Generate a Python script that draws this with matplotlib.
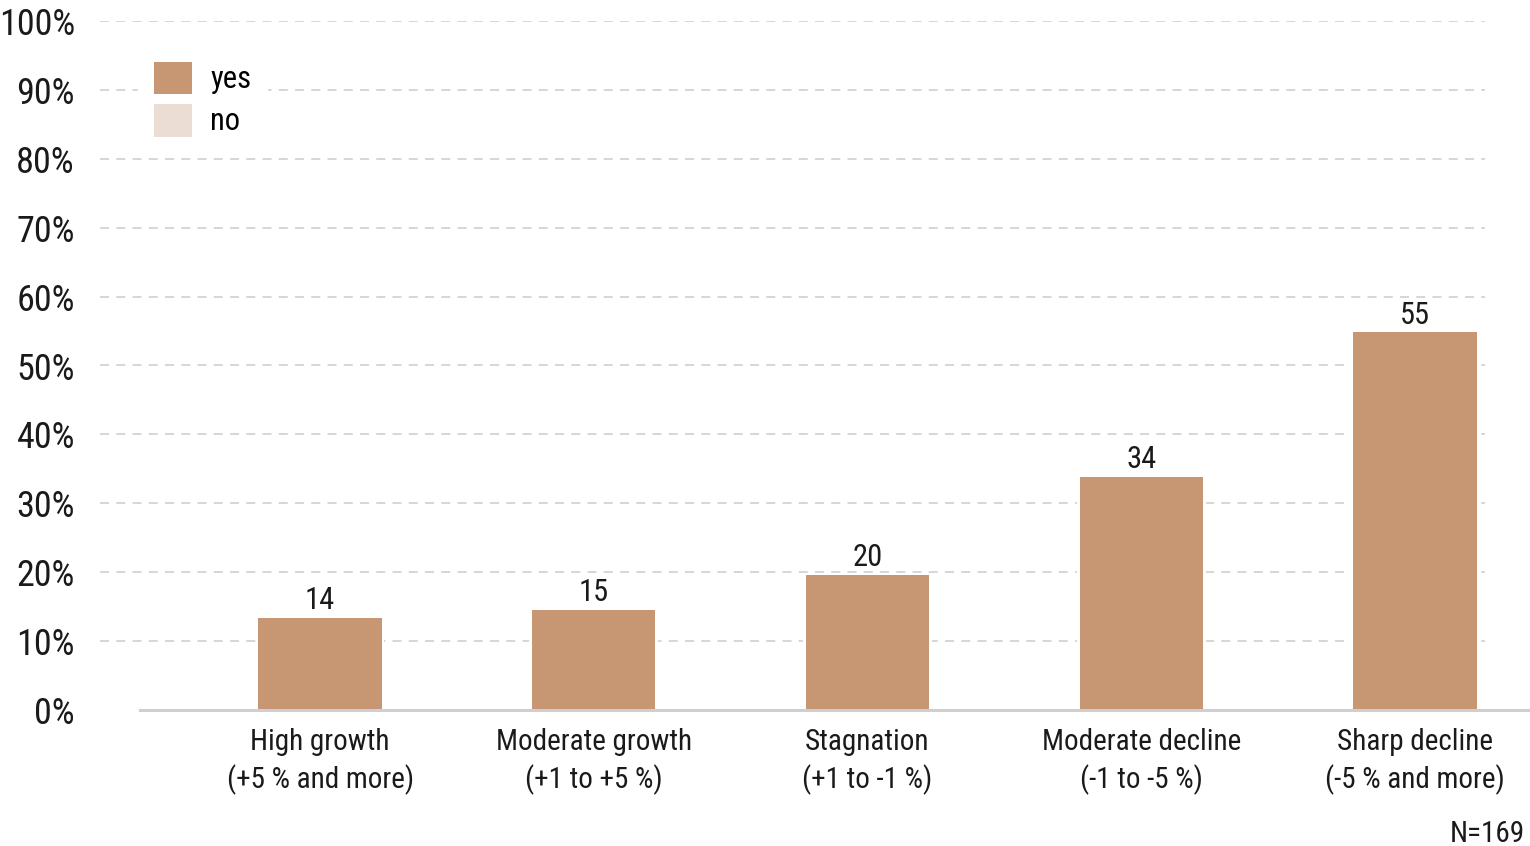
import matplotlib
matplotlib.use("Agg")
import matplotlib.pyplot as plt
from matplotlib.patches import Patch
from matplotlib import font_manager as fm

categories = ["High growth\n(+5 % and more)", "Moderate growth\n(+1 to +5 %)",
              "Stagnation\n(+1 to -1 %)", "Moderate decline\n(-1 to -5 %)",
              "Sharp decline\n(-5 % and more)"]
yes_values = [13.4, 14.5, 19.6, 33.8, 54.8]
value_labels = ["14", "15", "20", "34", "55"]
y_ticks = [0, 10, 20, 30, 40, 50, 60, 70, 80, 90, 100]
y_tick_labels = [f"{t}%" for t in y_ticks]
legend_labels = ["yes", "no"]
note = "N=169"

names = {f.name for f in fm.fontManager.ttflist}
fam = "Liberation Sans"
for cand in ["Arial Narrow", "Liberation Sans Narrow", "Roboto Condensed"]:
    if cand in names:
        fam = cand
        break
narrow = fam != "Liberation Sans"
k = 1.0 if narrow else 0.88
plt.rcParams["font.family"] = [fam, "DejaVu Sans"]

YES = "#C79673"
NO = "#EBDDD3"
GRID = "#D3D3D3"
TXT = "#1a1a1a"

W, H = 1530, 846
fig = plt.figure(figsize=(W / 100, H / 100), dpi=100)
ax = fig.add_axes([100 / W, (H - 710) / H, 1385 / W, (710 - 21) / H])

x = list(range(len(categories)))
ax.bar(x, yes_values, width=0.47, color="white", zorder=2)
ax.bar(x, yes_values, width=0.45, color=YES, zorder=3)
for xi, v, lab in zip(x, yes_values, value_labels):
    ax.annotate(lab, (xi, v), xytext=(0, 2), textcoords="offset points",
                ha="center", va="bottom", fontsize=22 * k, color=TXT)

ax.set_xlim(-0.804, 4.256)
ax.set_ylim(0, 100)
ax.set_yticks(y_ticks)
ax.set_yticklabels(y_tick_labels, fontsize=26 * k, color=TXT)
ax.set_xticks(x)
ax.set_xticklabels(categories, fontsize=21 * k, color=TXT, linespacing=1.35)
ax.tick_params(axis="y", length=0, pad=18)
ax.tick_params(axis="x", length=0, pad=13)
for s in ax.spines.values():
    s.set_visible(False)
for t in y_ticks[1:]:
    ax.axhline(t, color=GRID, lw=1.3, ls=(0, (5, 4)), zorder=1)
ax.axhline(0, xmin=40 / 1385, xmax=1430 / 1385, color="#CFCFCF", lw=2.2,
           clip_on=False, zorder=4)

handles = [Patch(facecolor=YES), Patch(facecolor=NO)]
leg = ax.legend(handles, legend_labels, loc="upper left",
                bbox_to_anchor=(23 / 1385, 1 - 10 / 689), fontsize=22 * k,
                frameon=True, framealpha=1, edgecolor="white",
                handlelength=1.26, handleheight=1.28, handletextpad=0.6,
                labelspacing=0.3, borderpad=0.5)
leg.set_zorder(5)

fig.text(1525 / W, (H - 834) / H, note, ha="right", va="center",
         fontsize=21 * k, color=TXT)

fig.savefig("out.png", dpi=100, facecolor="white")
